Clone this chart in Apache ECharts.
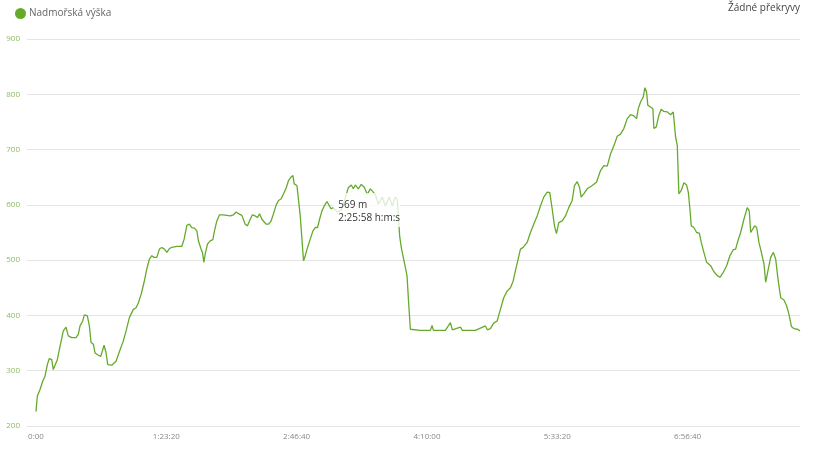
<!DOCTYPE html>
<html>
<head>
<meta charset="utf-8">
<script src="https://cdn.jsdelivr.net/npm/echarts@6/dist/echarts.min.js"></script>
<style>html,body{margin:0;padding:0;background:#fff}#c{width:840px;height:450px}</style>
</head>
<body>
<div id="c"></div>
<script>
// time in seconds from start
const times = [0,50,154,257,346,434,511,603,664,730,818,922,1048,1152,1240,1371,1536,1624,1690,1793,1855,1970,2047,2112,2200,2266,2392,2484,2561,2611,2688,2753,2907,3072,3226,3352,3456,3583,3736,3840,3928,4032,4147,4251,4351,4443,4531,4635,4735,4827,4927,5019,5119,5211,5403,5595,5683,5787,5887,5979,6079,6171,6232,6324,6386,6440,6490,6578,6682,6785,6847,6939,7039,7192,7450,7576,7680,7768,7899,8026,8114,8218,8306,8410,8498,8575,8667,8758,8832,8920,9012,9112,9216,9304,9408,9496,9588,9688,9780,9857,9907,10011,10072,10138,10203,10264,10330,10418,10522,10625,10714,10802,10879,10971,11059,11163,11224,11316,11405,11558,11712,11866,11981,12096,12173,12250,12365,12480,12595,12710,12826,12902,13018,13133,13286,13402,13555,13670,13786,13862,13951,14016,14074,14131,14234,14296,14362,14427,14746,15130,15195,15245,15706,15898,15974,16282,16358,16858,17242,17318,17434,17560,17691,17818,17944,18075,18202,18305,18394,18497,18586,18690,18843,18970,19096,19227,19354,19480,19611,19711,19803,19891,19968,20056,20187,20314,20440,20571,20659,20763,20851,20916,21016,21147,21339,21504,21658,21785,21915,22042,22195,22299,22426,22552,22683,22810,22937,23040,23105,23194,23297,23359,23424,23474,23578,23666,23705,23797,23896,23988,24088,24219,24346,24449,24538,24603,24664,24756,24856,24960,25025,25087,25140,25240,25344,25448,25524,25624,25728,25882,26009,26139,26239,26369,26496,26623,26753,26842,26930,27034,27160,27287,27364,27418,27483,27571,27648,27736,27829,27929,27994,28082,28186,28289,28378,28466,28570,28696,28800,28888,28981,29083,29211,29311];
// elevation in metres
const elevation = [226,254,266,281,290,311,322,320,302,305,320,344,372,379,363,360,360,366,381,390,401,399,381,351,348,332,328,326,338,346,332,311,310,317,338,354,372,396,411,414,423,438,460,484,502,508,505,505,520,523,520,514,521,523,525,525,538,563,565,559,558,553,535,521,514,496,511,529,535,537,553,571,582,582,580,582,587,584,581,565,562,574,582,580,577,584,574,569,565,565,570,584,600,608,611,620,629,644,650,653,638,635,632,580,538,499,508,523,538,553,559,559,574,589,598,606,605,593,595,587,591,613,631,636,629,636,629,637,632,619,629,632,619,601,614,598,614,598,614,610,544,522,520,496,472,423,375,373,373,373,382,373,373,387,374,379,373,373,381,374,376,386,390,411,432,444,450,462,481,502,520,523,532,550,565,580,598,614,623,622,593,562,548,568,571,580,595,608,635,642,632,614,620,629,635,641,662,671,670,692,710,724,728,738,756,763,761,756,774,786,795,812,804,780,777,774,738,741,762,773,769,768,763,768,723,707,620,626,640,636,623,593,562,559,550,549,532,514,496,490,479,472,469,478,490,508,519,520,535,550,574,595,589,550,547,562,559,532,514,493,460,481,505,514,502,466,432,428,417,402,380,376,375,372];
const yMin = 200, yMax = 900, yStep = 100;
const xStep = 5000;
const seriesName = 'Nadmořská výška';
const rightNote = 'Žádné překryvy';
const tipTime = 8758, tipValue = 569;

function fmt(s){
  if (s === 0) return '0:00';
  const h = Math.floor(s/3600), m = Math.floor((s%3600)/60), sec = Math.round(s%60);
  return h + ':' + String(m).padStart(2,'0') + ':' + String(sec).padStart(2,'0');
}
const data = times.map((t,i)=>[t, elevation[i]]);
const green = '#66aa2c';
const chart = echarts.init(document.getElementById('c'));
const ff = '"Open Sans", "Noto Sans", sans-serif';
chart.setOption({
  animation:false,
  textStyle:{fontFamily:ff},
  grid:[
    {left:27, right:40, top:39, bottom:24},
    {left:36, right:40, top:39, bottom:24}
  ],
  legend:{
    show:true, left:10, top:3, itemWidth:11, itemHeight:11, itemGap:5, icon:'circle',
    textStyle:{color:'#666', fontSize:10, fontFamily:ff, padding:[0,0,0,-2]},
    data:[seriesName]
  },
  xAxis:[
    {gridIndex:0, type:'value', min:0, max:1, show:false},
    {gridIndex:1, type:'value', min:0, max:'dataMax', interval:xStep,
     axisLine:{show:false}, axisTick:{show:false}, splitLine:{show:false},
     axisLabel:{color:'#888', fontSize:8, margin:7, formatter:v=>fmt(v), showMaxLabel:false}}
  ],
  yAxis:[
    {gridIndex:0, type:'value', min:yMin, max:yMax, interval:yStep,
     axisLine:{show:false}, axisTick:{show:false},
     splitLine:{show:true, lineStyle:{color:'#e4e4e4', width:1}},
     axisLabel:{color:'#8dbb5e', fontSize:8, margin:7}},
    {gridIndex:1, type:'value', min:yMin, max:yMax, interval:yStep, show:false}
  ],
  series:[{
    name:seriesName, type:'line', xAxisIndex:1, yAxisIndex:1, data:data,
    showSymbol:false, symbol:'circle', smooth:false,
    lineStyle:{color:green, width:1.3}, itemStyle:{color:green}
  }]
});
const p = chart.convertToPixel({xAxisIndex:1, yAxisIndex:1}, [tipTime, tipValue]);
chart.setOption({graphic:[
  {type:'text', right:40, top:3, z:100, style:{text:rightNote, fill:'#444', fontSize:10, fontFamily:ff}},
  {type:'group', x:p[0]+69, y:p[1]-29, z:100, children:[
    {type:'rect', z:100, shape:{x:0, y:0, width:67, height:34}, style:{fill:'rgba(255,255,255,0.78)'}},
    {type:'text', z:101, x:5, y:7, style:{text:tipValue+' m', fill:'#333', fontSize:10, fontFamily:ff}},
    {type:'text', z:101, x:5, y:20, style:{text:fmt(tipTime)+' h:m:s', fill:'#333', fontSize:10, fontFamily:ff}}
  ]}
]});
</script>
</body>
</html>
